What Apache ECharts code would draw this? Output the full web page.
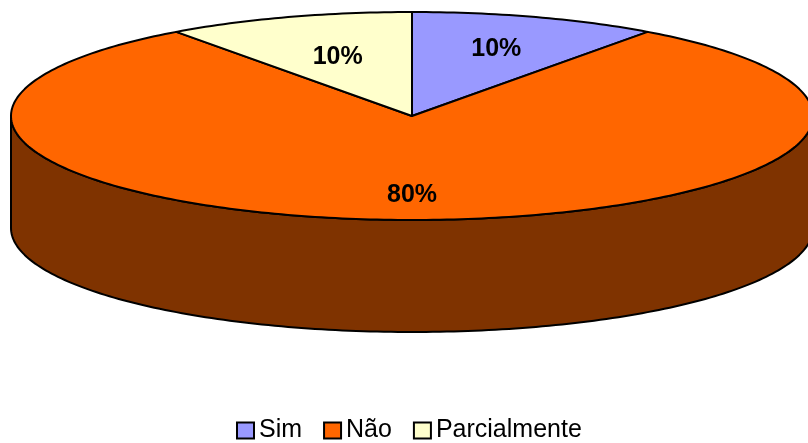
<!DOCTYPE html>
<html>
<head>
<meta charset="utf-8">
<script src="https://cdn.jsdelivr.net/npm/echarts@6/dist/echarts.min.js"></script>
<style>
  html, body { margin: 0; padding: 0; background: #fff; }
  #chart { width: 808px; height: 443px; }
</style>
</head>
<body>
<div id="chart"></div>
<script>
// Data
const categories = ['Sim', 'Não', 'Parcialmente'];
const values = [10, 80, 10];

// Colours of the top faces and of the outer walls
const topColors = ['#9999FF', '#FF6600', '#FFFFCC'];
const sideColors = ['#4D4D80', '#7F3300', '#80806A'];

// Pie geometry (ellipse of the top face, wall height)
const PIE = { cx: 412, cy: 116, rx: 401, ry: 104, depth: 112 };
// Label distance from the centre, as a fraction of the radius
const LABEL_RADIUS = [0.68, 0.76, 0.6];
const FONT = 'Arial, "Liberation Sans", sans-serif';

const total = values.reduce((a, b) => a + b, 0);
const starts = [];
let acc = 0;
values.forEach(v => { starts.push(acc); acc += v; });

// angle measured clockwise from 12 o'clock on the un-tilted circle
function pt(theta, dy) {
  return [PIE.cx + PIE.rx * Math.sin(theta), PIE.cy - PIE.ry * Math.cos(theta) + (dy || 0)];
}
function arc(a0, a1, dy) {
  const n = Math.max(2, Math.ceil(Math.abs(a1 - a0) / (Math.PI / 180)));
  const pts = [];
  for (let i = 0; i <= n; i++) pts.push(pt(a0 + (a1 - a0) * i / n, dy));
  return pts;
}

function renderSlice(idx) {
  return function (params, api) {
    const v = api.value(0);
    const a0 = starts[idx] / total * 2 * Math.PI;
    const a1 = (starts[idx] + v) / total * 2 * Math.PI;
    const children = [];
    // outer wall: only the front half (90°..270°) can be seen
    const s0 = Math.max(a0, Math.PI / 2);
    const s1 = Math.min(a1, 3 * Math.PI / 2);
    if (s1 > s0) {
      children.push({
        type: 'polygon', z2: 1,
        shape: { points: arc(s0, s1, 0).concat(arc(s1, s0, PIE.depth)) },
        style: { fill: sideColors[idx], stroke: '#000', lineWidth: 2, lineJoin: 'round' }
      });
    }
    // top face
    children.push({
      type: 'polygon', z2: 5,
      shape: { points: [[PIE.cx, PIE.cy]].concat(arc(a0, a1, 0)) },
      style: { fill: topColors[idx], stroke: '#000', lineWidth: 2, lineJoin: 'round' }
    });
    // percentage label
    const m = (a0 + a1) / 2;
    const f = LABEL_RADIUS[idx];
    children.push({
      type: 'text', z2: 10,
      style: {
        text: Math.round(v / total * 100) + '%',
        x: PIE.cx + PIE.rx * f * Math.sin(m),
        y: PIE.cy - PIE.ry * f * Math.cos(m),
        align: 'center', verticalAlign: 'middle',
        font: 'bold 25px ' + FONT,
        fill: '#000'
      }
    });
    return { type: 'group', children };
  };
}

const chart = echarts.init(document.getElementById('chart'), null, { renderer: 'canvas' });
chart.setOption({
  animation: false,
  backgroundColor: '#fff',
  legend: {
    data: categories,
    left: 236,
    top: 418,
    padding: 0,
    icon: 'rect',
    itemWidth: 17,
    itemHeight: 16,
    itemGap: 21,
    selectedMode: false,
    itemStyle: { borderColor: '#000', borderWidth: 2 },
    textStyle: { fontFamily: FONT, fontSize: 25, color: '#000' }
  },
  series: categories.map((name, idx) => ({
    type: 'custom',
    name: name,
    coordinateSystem: 'none',
    silent: true,
    itemStyle: { color: topColors[idx], borderColor: '#000', borderWidth: 2 },
    data: [values[idx]],
    renderItem: renderSlice(idx)
  }))
});
</script>
</body>
</html>
